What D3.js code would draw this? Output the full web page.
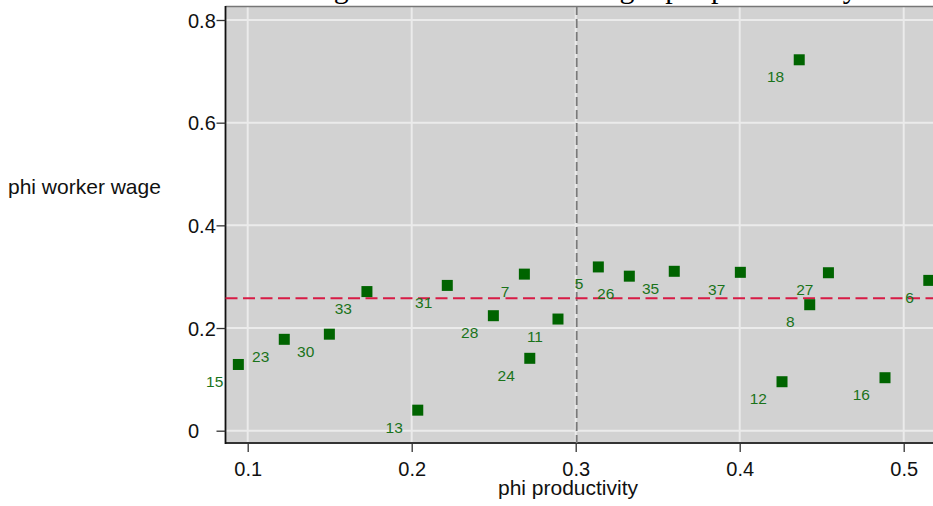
<!DOCTYPE html>
<html>
<head>
<meta charset="utf-8">
<script src="https://cdn.jsdelivr.net/npm/d3@7"></script>
<style>
body{margin:0;background:#fff;}
svg{display:block;}
</style>
</head>
<body>
<div id="chart"></div>
<script>
let chart_width = 933;
let chart_height = 506;

// firm ids and their phi values
let firm_ids = [15,23,30,33,13,31,28,7,24,11,5,26,35,37,18,12,8,27,16,6];
let phi_productivity = [0.0943,0.1223,0.1498,0.1727,0.2037,0.2217,0.2498,0.2687,0.272,0.2892,
    0.3138,0.3327,0.3601,0.4004,0.4363,0.4258,0.4427,0.4541,0.4886,0.5153];
let phi_wage = [0.129,0.178,0.188,0.271,0.040,0.283,0.224,0.305,0.141,0.2175,
    0.319,0.301,0.3105,0.3085,0.7225,0.0954,0.2454,0.3077,0.1032,0.2928];

let x_ticks = [0.1,0.2,0.3,0.4,0.5];
let y_ticks = [0,0.2,0.4,0.6,0.8];
let mean_productivity = 0.3006;
let mean_wage = 0.2578;

let chart_title = 'Worker wage versus estimated weight phi productivity';

const xScale = d3.scaleLinear().domain([0.1,0.5]).range([247.7,903.7]);
const yScale = d3.scaleLinear().domain([0,0.8]).range([430.7,20]);

const plot_left = 225.5, plot_top = 6, plot_bottom = 443, plot_right = 960;

let svg = d3.select('#chart')
    .append('svg')
    .attr('width',chart_width)
    .attr('height',chart_height);

// title, mostly cut off above the picture
svg.append('text')
    .text(chart_title)
    .attr('x',202)
    .attr('y',-2)
    .style('font-family','"Liberation Serif", "Times New Roman", serif')
    .style('font-size','30px')
    .attr('fill','#000');

svg.append('rect')
    .attr('x',plot_left)
    .attr('y',plot_top)
    .attr('width',plot_right-plot_left)
    .attr('height',plot_bottom-plot_top)
    .attr('fill','#d2d2d2');

let grid = svg.append('g').attr('class','grid');
grid.selectAll('.vgrid')
    .data(x_ticks)
    .enter()
    .append('line')
    .attr('x1',d=>xScale(d))
    .attr('x2',d=>xScale(d))
    .attr('y1',plot_top)
    .attr('y2',plot_bottom)
    .attr('stroke','#ebebeb')
    .attr('stroke-width',2);
grid.selectAll('.hgrid')
    .data(y_ticks)
    .enter()
    .append('line')
    .attr('x1',plot_left)
    .attr('x2',plot_right)
    .attr('y1',d=>yScale(d))
    .attr('y2',d=>yScale(d))
    .attr('stroke','#ebebeb')
    .attr('stroke-width',2);

// borders
svg.append('line')
    .attr('x1',plot_left).attr('x2',plot_right)
    .attr('y1',plot_top+0.5).attr('y2',plot_top+0.5)
    .attr('stroke','#777').attr('stroke-width',1.5);
svg.append('line')
    .attr('x1',plot_left).attr('x2',plot_right)
    .attr('y1',plot_bottom).attr('y2',plot_bottom)
    .attr('stroke','#333').attr('stroke-width',1.8);
svg.append('line')
    .attr('x1',plot_left).attr('x2',plot_left)
    .attr('y1',plot_top).attr('y2',plot_bottom+1)
    .attr('stroke','#111').attr('stroke-width',1.8);

// reference lines
svg.append('line')
    .attr('x1',xScale(mean_productivity))
    .attr('x2',xScale(mean_productivity))
    .attr('y1',plot_top)
    .attr('y2',plot_bottom)
    .attr('stroke','#7a7a7a')
    .attr('stroke-width',1.8)
    .attr('stroke-dasharray','9,4');

svg.append('line')
    .attr('x1',plot_left)
    .attr('x2',plot_right)
    .attr('y1',yScale(mean_wage))
    .attr('y2',yScale(mean_wage))
    .attr('stroke','#d81b45')
    .attr('stroke-width',2)
    .attr('stroke-dasharray','12,5.5');

// axes
let xAxis = d3.axisBottom(xScale)
    .tickValues(x_ticks)
    .tickFormat(d3.format('.1f'))
    .tickSize(9)
    .tickPadding(10);
let gx = svg.append('g')
    .attr('transform','translate(0,'+plot_bottom+')')
    .call(xAxis);
gx.select('.domain').remove();
gx.selectAll('line').attr('stroke','#333').attr('stroke-width',1.3);
gx.selectAll('text')
    .style('font-family','"Liberation Sans", Arial, sans-serif')
    .style('font-size','20px')
    .attr('fill','#111');

let yAxis = d3.axisLeft(yScale)
    .tickValues(y_ticks)
    .tickFormat(d=>d===0?'0':d3.format('.1f')(d))
    .tickSize(9)
    .tickPadding(0);
let gy = svg.append('g')
    .attr('transform','translate('+plot_left+',0)')
    .call(yAxis);
gy.select('.domain').remove();
gy.selectAll('line').attr('stroke','#333').attr('stroke-width',1.3);
gy.selectAll('text')
    .attr('text-anchor','start')
    .attr('x',-37.5)
    .attr('dy','0.35em')
    .style('font-family','"Liberation Sans", Arial, sans-serif')
    .style('font-size','20px')
    .attr('fill','#111');

svg.append('text')
    .text('phi productivity')
    .attr('x',568)
    .attr('y',495)
    .attr('text-anchor','middle')
    .style('font-family','"Liberation Sans", Arial, sans-serif')
    .style('font-size','21px')
    .attr('fill','#111');

svg.append('text')
    .text('phi worker wage')
    .attr('x',8)
    .attr('y',194)
    .style('font-family','"Liberation Sans", Arial, sans-serif')
    .style('font-size','21px')
    .attr('fill','#111');

// points
let points = firm_ids.map((id,i)=>({'id':id,'x':phi_productivity[i],'y':phi_wage[i]}));

let marks = svg.append('g').attr('id','points');
marks.selectAll('rect')
    .data(points)
    .enter()
    .append('rect')
    .attr('x',d=>xScale(d.x)-5.5)
    .attr('y',d=>yScale(d.y)-5.5)
    .attr('width',11)
    .attr('height',11)
    .attr('fill','#006400');

marks.selectAll('text')
    .data(points)
    .enter()
    .append('text')
    .text(d=>d.id)
    .attr('x',d=>xScale(d.x)-15)
    .attr('y',d=>yScale(d.y)+22.5)
    .attr('text-anchor','end')
    .style('font-family','"Liberation Sans", Arial, sans-serif')
    .style('font-size','15.5px')
    .attr('fill','#1a731a');
</script>
</body>
</html>
